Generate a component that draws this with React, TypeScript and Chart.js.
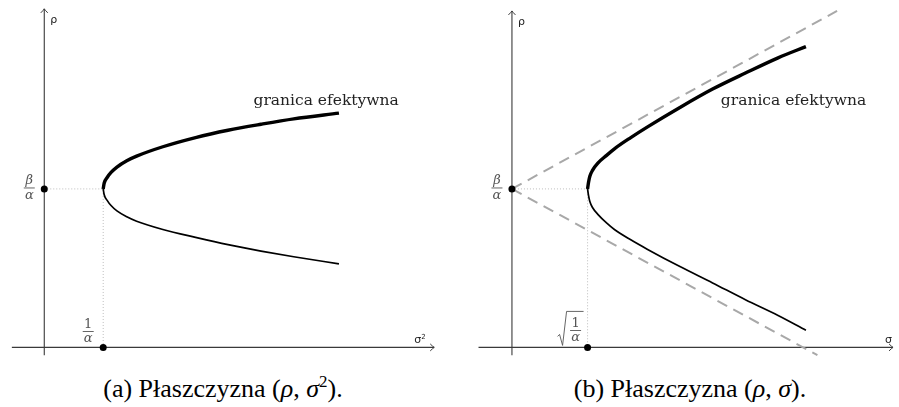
import React, { useEffect, useRef } from "react";
import { Chart, registerables } from "chart.js";
Chart.register(...registerables);

// ---------- Panel (a): plane (σ², ρ); x in units of 1/α, y in units of β/α ----------
const aUpperX = [1.0, 1.017, 1.067, 1.133, 1.233, 1.4, 1.567, 2.012, 2.567, 3.117, 3.678, 4.233, 5.0];
const aUpperY = [1.0, 1.037, 1.072, 1.104, 1.138, 1.178, 1.207, 1.266, 1.324, 1.37, 1.408, 1.442, 1.478];
const aLowerX = [1.0, 1.017, 1.067, 1.133, 1.233, 1.4, 1.567, 2.012, 2.567, 3.117, 3.678, 4.233, 5.0];
const aLowerY = [1.0, 0.963, 0.928, 0.895, 0.861, 0.824, 0.796, 0.744, 0.694, 0.648, 0.608, 0.572, 0.527];
const aXAxis = [-0.55, 6.617];
const aYAxis = [-0.049, 2.136];

// ---------- Panel (b): plane (σ, ρ); x in units of sqrt(1/α), y in units of β/α ----------
const bUpperX = [1.0, 1.013, 1.03, 1.065, 1.139, 1.247, 1.355, 1.571, 1.788, 2.221, 2.653, 3.087, 3.519, 3.887];
const bUpperY = [1.0, 1.043, 1.08, 1.117, 1.164, 1.21, 1.253, 1.324, 1.39, 1.514, 1.63, 1.731, 1.827, 1.898];
const bLowerX = [1.0, 1.013, 1.03, 1.065, 1.139, 1.247, 1.355, 1.571, 1.788, 2.221, 2.653, 3.087, 3.519, 3.887];
const bLowerY = [1.0, 0.957, 0.92, 0.883, 0.838, 0.787, 0.744, 0.679, 0.62, 0.51, 0.407, 0.301, 0.202, 0.109];
const bAsymUpper = [[0, 1], [4.299, 2.123]];
const bAsymLower = [[0, 1], [4.039, -0.049]];
const bXAxis = [-0.442, 5.039];
const bYAxis = [-0.049, 2.123];

// Key points: (0, β/α) and (x0, 0)
const keyPoints = [[0, 1], [1, 0]];
const vertex = [1, 1];

const curveLabel = "granica efektywna";
const captionA = ["(a) Płaszczyzna (", "ρ", ", ", "σ", "2", ")."];
const captionB = ["(b) Płaszczyzna (", "ρ", ", ", "σ", "", ")."];

const pts = (xs: number[], ys: number[]) => xs.map((x, i) => ({ x, y: ys[i] }));

type PanelCfg = {
  upper: { x: number; y: number }[];
  lower: { x: number; y: number }[];
  xAxis: number[];
  yAxis: number[];
  asym: number[][][];
  xLabel: string;
  xMin: number;
  xMax: number;
  textAt: [number, number];
  sqrt: boolean;
};

const AXIS = "#3a3a3a";
const FRAC = "#555";
const SERIF = '"Liberation Serif", "Times New Roman", Tinos, Times, serif';

function drawFrac(ctx: CanvasRenderingContext2D, num: string, cx: number, barY: number) {
  ctx.fillStyle = FRAC;
  ctx.textAlign = "center";
  ctx.textBaseline = "alphabetic";
  ctx.font = num === "1" ? '13px "DejaVu Serif"' : 'italic 13px "DejaVu Serif"';
  ctx.fillText(num, cx, barY - 3.5);
  ctx.font = 'italic 13px "DejaVu Serif"';
  ctx.fillText("α", cx, barY + 11);
  ctx.fillRect(cx - 5.5, barY - 0.4, 11, 0.9);
}

function makePlugin(cfg: PanelCfg) {
  return {
    id: "decor",
    afterDatasetsDraw(chart: any) {
      const ctx: CanvasRenderingContext2D = chart.ctx;
      const xs = chart.scales.x;
      const ys = chart.scales.y;
      const px = (v: number) => xs.getPixelForValue(v);
      const py = (v: number) => ys.getPixelForValue(v);
      ctx.save();
      // arrowheads
      ctx.strokeStyle = AXIS;
      ctx.lineWidth = 1;
      const ax = px(cfg.xAxis[1]);
      const ay = py(0);
      ctx.beginPath();
      ctx.moveTo(ax - 4, ay - 3.5);
      ctx.quadraticCurveTo(ax - 1.5, ay - 1, ax, ay);
      ctx.quadraticCurveTo(ax - 1.5, ay + 1, ax - 4, ay + 3.5);
      ctx.stroke();
      const tx = px(0);
      const ty = py(cfg.yAxis[1]);
      ctx.beginPath();
      ctx.moveTo(tx - 3.5, ty + 4);
      ctx.quadraticCurveTo(tx - 1, ty + 1.5, tx, ty);
      ctx.quadraticCurveTo(tx + 1, ty + 1.5, tx + 3.5, ty + 4);
      ctx.stroke();

      // axis names
      ctx.fillStyle = "#222";
      ctx.font = '11px "DejaVu Sans"';
      ctx.textAlign = "left";
      ctx.textBaseline = "alphabetic";
      ctx.fillText("ρ", tx + 6, ty + 14);
      if (cfg.xLabel === "σ2") {
        ctx.fillText("σ", ax - 20, ay - 4);
        ctx.font = '7px "DejaVu Sans"';
        ctx.fillText("2", ax - 13, ay - 8);
      } else {
        ctx.fillText("σ", ax - 8, ay - 4);
      }

      // fraction labels
      const d1x = px(keyPoints[0][0]);
      const d1y = py(keyPoints[0][1]);
      drawFrac(ctx, "β", d1x - 15, d1y - 1);
      const d2x = px(keyPoints[1][0]);
      const d2y = py(keyPoints[1][1]);
      if (cfg.sqrt) {
        drawFrac(ctx, "1", d2x - 12, d2y - 17);
        ctx.strokeStyle = FRAC;
        ctx.lineWidth = 0.9;
        ctx.beginPath();
        ctx.moveTo(d2x - 30, d2y - 11);
        ctx.lineTo(d2x - 28, d2y - 13);
        ctx.lineTo(d2x - 25, d2y - 2);
        ctx.lineTo(d2x - 21, d2y - 36);
        ctx.lineTo(d2x - 4, d2y - 36);
        ctx.stroke();
      } else {
        drawFrac(ctx, "1", d2x - 15, d2y - 16);
      }

      // curve label
      ctx.fillStyle = "#222";
      ctx.font = '15.5px "DejaVu Serif"';
      ctx.textAlign = "left";
      ctx.textBaseline = "middle";
      ctx.fillText(curveLabel, px(cfg.textAt[0]), py(cfg.textAt[1]));
      ctx.restore();
    },
  };
}

function Panel({ cfg, left, width }: { cfg: PanelCfg; left: number; width: number }) {
  const ref = useRef<HTMLCanvasElement>(null);
  useEffect(() => {
    const canvas = ref.current!;
    const curve = {
      showLine: true,
      borderColor: "#000",
      pointRadius: 0,
      cubicInterpolationMode: "monotone",
    };
    const datasets: any[] = [
      {
        data: keyPoints.map(([x, y]) => ({ x, y })),
        pointRadius: 3.5,
        pointBackgroundColor: "#000",
        pointBorderWidth: 0,
        showLine: false,
      },
      { ...curve, data: cfg.upper, borderWidth: 3.4 },
      { ...curve, data: cfg.lower, borderWidth: 1.7 },
      ...cfg.asym.map((seg) => ({
        data: seg.map(([x, y]) => ({ x, y })),
        showLine: true,
        borderColor: "#a8a8a8",
        borderWidth: 2,
        borderDash: [11, 7],
        pointRadius: 0,
      })),
      {
        data: [
          { x: keyPoints[0][0], y: vertex[1] },
          { x: vertex[0], y: vertex[1] },
          { x: keyPoints[1][0], y: keyPoints[1][1] },
        ],
        showLine: true,
        borderColor: "#bdbdbd",
        borderWidth: 1,
        borderDash: [1, 2],
        pointRadius: 0,
      },
      {
        data: [{ x: cfg.xAxis[0], y: 0 }, { x: cfg.xAxis[1], y: 0 }],
        showLine: true,
        borderColor: AXIS,
        borderWidth: 1.1,
        pointRadius: 0,
      },
      {
        data: [{ x: 0, y: cfg.yAxis[0] }, { x: 0, y: cfg.yAxis[1] }],
        showLine: true,
        borderColor: AXIS,
        borderWidth: 1.1,
        pointRadius: 0,
      },
    ];
    const chart = new Chart(canvas, {
      type: "scatter",
      data: { datasets },
      options: {
        responsive: false,
        animation: false,
        events: [],
        layout: { padding: 0 },
        plugins: { legend: { display: false }, tooltip: { enabled: false } },
        scales: {
          x: { type: "linear", min: cfg.xMin, max: cfg.xMax, display: false },
          y: { type: "linear", min: -19 / 162, max: 351 / 162, display: false },
        },
      },
      plugins: [makePlugin(cfg)],
    } as any);
    return () => chart.destroy();
  }, []);
  return (
    <canvas
      ref={ref}
      width={width}
      height={370}
      style={{ position: "absolute", left, top: 0, width, height: 370 }}
    />
  );
}

function Caption({ parts, center }: { parts: string[]; center: number }) {
  return (
    <div
      style={{
        position: "absolute",
        left: center - 200,
        width: 400,
        top: 374,
        textAlign: "center",
        fontFamily: SERIF,
        fontSize: 26,
        color: "#000",
        whiteSpace: "nowrap",
        lineHeight: "30px",
      }}
    >
      {parts[0]}
      <i>{parts[1]}</i>
      {parts[2]}
      <i>{parts[3]}</i>
      {parts[4] ? <sup style={{ fontSize: 17, lineHeight: 0 }}>{parts[4]}</sup> : null}
      {parts[5]}
    </div>
  );
}

const cfgA: PanelCfg = {
  upper: pts(aUpperX, aUpperY),
  lower: pts(aLowerX, aLowerY),
  xAxis: aXAxis,
  yAxis: aYAxis,
  asym: [],
  xLabel: "σ2",
  xMin: -41 / 60,
  xMax: 409 / 60,
  textAt: [3.55, 1.556],
  sqrt: false,
};

const cfgB: PanelCfg = {
  upper: pts(bUpperX, bUpperY),
  lower: pts(bLowerX, bLowerY),
  xAxis: bXAxis,
  yAxis: bYAxis,
  asym: [bAsymUpper, bAsymLower],
  xLabel: "σ",
  xMin: -59 / 77,
  xMax: 390 / 77,
  textAt: [2.762, 1.556],
  sqrt: true,
};

export default function App() {
  return (
    <div
      style={{
        position: "fixed",
        left: 0,
        top: 0,
        width: 899,
        height: 407,
        background: "#fff",
        overflow: "hidden",
      }}
    >
      <Panel cfg={cfgA} left={0} width={450} />
      <Panel cfg={cfgB} left={450} width={449} />
      <Caption parts={captionA} center={223} />
      <Caption parts={captionB} center={690} />
    </div>
  );
}
